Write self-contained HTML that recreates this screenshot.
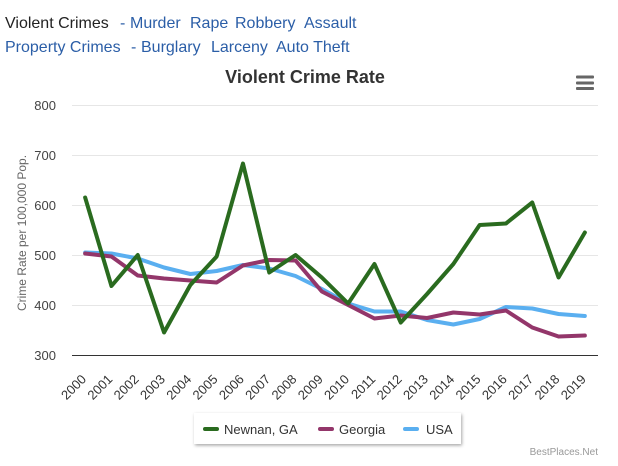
<!DOCTYPE html>
<html>
<head>
<meta charset="utf-8">
<style>
  html, body { margin:0; padding:0; background:#fff; }
  body { width:618px; height:466px; overflow:hidden; }
  svg { display:block; font-family:"Liberation Sans", Arial, sans-serif; }
</style>
</head>
<body>
<svg width="618" height="466" viewBox="0 0 618 466" xmlns="http://www.w3.org/2000/svg">
  <defs>
    <filter id="sh" x="-10%" y="-30%" width="120%" height="170%">
      <feDropShadow dx="1" dy="1.5" stdDeviation="1.5" flood-color="#000" flood-opacity="0.35"/>
    </filter>
  </defs>

  <!-- top links -->
  <g font-size="16">
    <text x="5" y="28" fill="#222">Violent Crimes</text>
    <text x="120" y="28" fill="#2b5ea7">-</text>
    <text x="130" y="28" fill="#2b5ea7">Murder</text>
    <text x="190" y="28" fill="#2b5ea7">Rape</text>
    <text x="235" y="28" fill="#2b5ea7">Robbery</text>
    <text x="304" y="28" fill="#2b5ea7">Assault</text>
    <text x="5" y="52" fill="#2b5ea7">Property Crimes</text>
    <text x="131" y="52" fill="#2b5ea7">-</text>
    <text x="141" y="52" fill="#2b5ea7">Burglary</text>
    <text x="211" y="52" fill="#2b5ea7">Larceny</text>
    <text x="276" y="52" fill="#2b5ea7">Auto Theft</text>
  </g>

  <!-- title -->
  <text x="305" y="83" text-anchor="middle" font-size="18" font-weight="bold" fill="#333">Violent Crime Rate</text>

  <!-- menu icon -->
  <g fill="#666">
    <rect x="576" y="75.5" width="18" height="3" rx="1"/>
    <rect x="576" y="81.5" width="18" height="3" rx="1"/>
    <rect x="576" y="87" width="18" height="3" rx="1"/>
  </g>

  <!-- gridlines -->
  <g stroke="#e6e6e6" stroke-width="1">
    <line x1="72" y1="105.5" x2="598" y2="105.5"/>
    <line x1="72" y1="155.5" x2="598" y2="155.5"/>
    <line x1="72" y1="205.5" x2="598" y2="205.5"/>
    <line x1="72" y1="255.5" x2="598" y2="255.5"/>
    <line x1="72" y1="305.5" x2="598" y2="305.5"/>
  </g>
  <line x1="72" y1="355.5" x2="598" y2="355.5" stroke="#333" stroke-width="1"/>

  <!-- y labels -->
  <g font-size="13" fill="#444" text-anchor="end">
    <text x="56" y="110">800</text>
    <text x="56" y="160">700</text>
    <text x="56" y="210">600</text>
    <text x="56" y="260">500</text>
    <text x="56" y="310">400</text>
    <text x="56" y="360">300</text>
  </g>
  <text x="26" y="233" text-anchor="middle" font-size="12" fill="#666" transform="rotate(-90 26 233)">Crime Rate per 100,000 Pop.</text>

  <!-- x labels -->
  <g font-size="13" fill="#333" text-anchor="end">
    <text x="87" y="380" transform="rotate(-45 87 380)">2000</text>
    <text x="113.3" y="380" transform="rotate(-45 113.3 380)">2001</text>
    <text x="139.6" y="380" transform="rotate(-45 139.6 380)">2002</text>
    <text x="165.9" y="380" transform="rotate(-45 165.9 380)">2003</text>
    <text x="192.2" y="380" transform="rotate(-45 192.2 380)">2004</text>
    <text x="218.5" y="380" transform="rotate(-45 218.5 380)">2005</text>
    <text x="244.8" y="380" transform="rotate(-45 244.8 380)">2006</text>
    <text x="271.1" y="380" transform="rotate(-45 271.1 380)">2007</text>
    <text x="297.4" y="380" transform="rotate(-45 297.4 380)">2008</text>
    <text x="323.7" y="380" transform="rotate(-45 323.7 380)">2009</text>
    <text x="350" y="380" transform="rotate(-45 350 380)">2010</text>
    <text x="376.3" y="380" transform="rotate(-45 376.3 380)">2011</text>
    <text x="402.6" y="380" transform="rotate(-45 402.6 380)">2012</text>
    <text x="428.9" y="380" transform="rotate(-45 428.9 380)">2013</text>
    <text x="455.2" y="380" transform="rotate(-45 455.2 380)">2014</text>
    <text x="481.5" y="380" transform="rotate(-45 481.5 380)">2015</text>
    <text x="507.8" y="380" transform="rotate(-45 507.8 380)">2016</text>
    <text x="534.1" y="380" transform="rotate(-45 534.1 380)">2017</text>
    <text x="560.4" y="380" transform="rotate(-45 560.4 380)">2018</text>
    <text x="586.7" y="380" transform="rotate(-45 586.7 380)">2019</text>
  </g>

  <!-- series -->
  <g fill="none" stroke-width="4" stroke-linejoin="round" stroke-linecap="round">
    <polyline stroke="#5aaff0" points="85.15,252.5 111.45,253.5 137.75,258.5 164.05,267.5 190.35,274 216.65,271 242.95,265 269.25,268.5 295.55,276 321.85,289 348.15,303.5 374.45,311.5 400.75,311.5 427.05,320 453.35,324.5 479.65,319 505.95,307 532.25,308.5 558.55,314 584.85,316"/>
    <polyline stroke="#93366a" points="85.15,253.5 111.45,256.5 137.75,275.5 164.05,278.5 190.35,280.5 216.65,282.5 242.95,265.5 269.25,260 295.55,260.5 321.85,291.5 348.15,305 374.45,318.5 400.75,315.5 427.05,318 453.35,312.5 479.65,314.5 505.95,310.5 532.25,327.5 558.55,336.5 584.85,335.5"/>
    <polyline stroke="#2a6b1f" points="85.15,197.5 111.45,286 137.75,255 164.05,332.5 190.35,285 216.65,256.5 242.95,163.5 269.25,272.5 295.55,255 321.85,277.5 348.15,303.5 374.45,264 400.75,322.5 427.05,294 453.35,264 479.65,225 505.95,223.5 532.25,202.5 558.55,277.5 584.85,232.5"/>
  </g>

  <!-- legend -->
  <rect x="194" y="413" width="267" height="31" fill="#fff" filter="url(#sh)"/>
  <g stroke-width="4" stroke-linecap="round">
    <line x1="205" y1="429" x2="217" y2="429" stroke="#2a6b1f"/>
    <line x1="320" y1="429" x2="332" y2="429" stroke="#93366a"/>
    <line x1="405" y1="429" x2="417" y2="429" stroke="#5aaff0"/>
  </g>
  <g font-size="13" fill="#333">
    <text x="224" y="434">Newnan, GA</text>
    <text x="339" y="434">Georgia</text>
    <text x="426" y="434">USA</text>
  </g>

  <!-- credit -->
  <text x="598" y="455" text-anchor="end" font-size="10" fill="#999">BestPlaces.Net</text>
</svg>
</body>
</html>
